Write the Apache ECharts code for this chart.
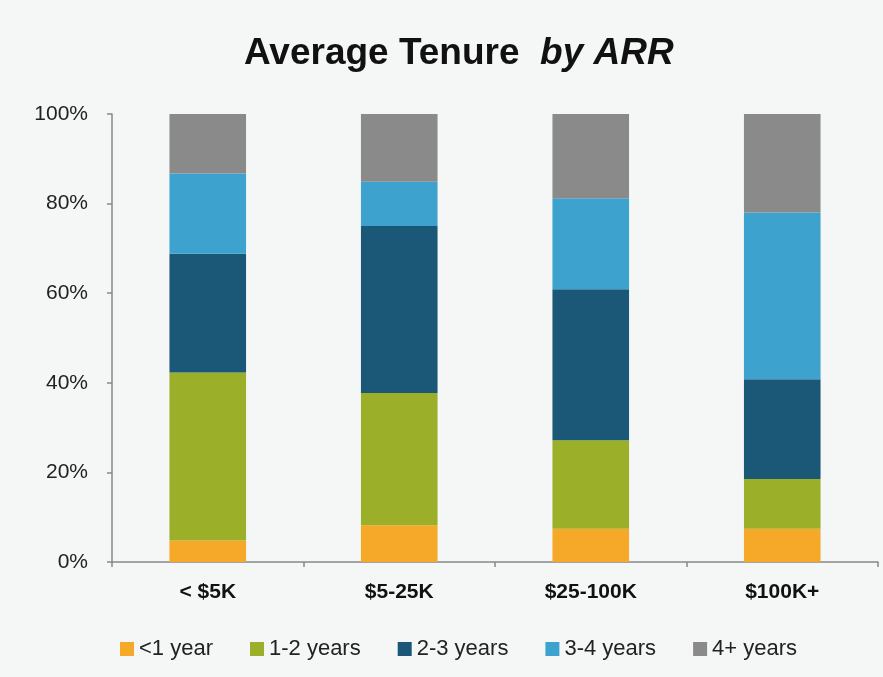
<!DOCTYPE html>
<html>
<head>
<meta charset="utf-8">
<script src="https://cdn.jsdelivr.net/npm/echarts@6/dist/echarts.min.js"></script>
<style>
  html, body { margin: 0; padding: 0; background: #f5f6f6; }
  #chart { width: 883px; height: 677px; }
</style>
</head>
<body>
<div id="chart"></div>
<script>
const categories = ['< $5K', '$5-25K', '$25-100K', '$100K+'];
const seriesNames = ['<1 year', '1-2 years', '2-3 years', '3-4 years', '4+ years'];
const lessThan1 = [4.8, 8.2, 7.4, 7.4];
const oneToTwo = [37.5, 29.5, 19.8, 11.1];
const twoToThree = [26.5, 37.3, 33.7, 22.3];
const threeToFour = [17.9, 9.9, 20.3, 37.2];
const fourPlus = [13.3, 15.1, 18.8, 22.0];
const yTicks = [0, 20, 40, 60, 80, 100];
const colors = ['#F6A828', '#9BAF28', '#1B5878', '#3EA2CE', '#8A8A8A'];

const values = [lessThan1, oneToTwo, twoToThree, threeToFour, fourPlus];
const FONT = 'Liberation Sans, Arial, sans-serif';

const chart = echarts.init(document.getElementById('chart'));
chart.setOption({
  backgroundColor: '#f5f6f6',
  animation: false,
  color: colors,
  title: {
    text: '{b|Average Tenure  }{i|by ARR}',
    left: 239,
    top: 30,
    textStyle: {
      rich: {
        b: { fontFamily: FONT, fontSize: 37, fontWeight: 'bold', color: '#111' },
        i: { fontFamily: FONT, fontSize: 37, fontStyle: 'italic', color: '#111' }
      }
    }
  },
  legend: {
    data: seriesNames,
    top: 633,
    left: 115,
    itemWidth: 14,
    itemHeight: 14,
    itemGap: 37,
    icon: 'rect',
    textStyle: { fontFamily: FONT, fontSize: 22, color: '#222' }
  },
  grid: { left: 112, right: 5, top: 114, bottom: 115 },
  xAxis: {
    type: 'category',
    data: categories,
    axisLine: { lineStyle: { color: '#888', width: 1.5 } },
    axisTick: { show: true, length: 5, lineStyle: { color: '#888', width: 1.5 } },
    axisLabel: { fontFamily: FONT, fontSize: 21, fontWeight: 'bold', color: '#111', margin: 20 }
  },
  yAxis: {
    type: 'value',
    min: yTicks[0],
    max: yTicks[yTicks.length - 1],
    interval: yTicks[1] - yTicks[0],
    splitLine: { show: false },
    axisLine: { show: true, lineStyle: { color: '#888', width: 1.5 } },
    axisTick: { show: true, length: 5, lineStyle: { color: '#888', width: 1.5 } },
    axisLabel: { formatter: '{value}%', fontFamily: FONT, fontSize: 21, color: '#222', margin: 24 }
  },
  series: seriesNames.map((name, i) => ({
    name: name,
    type: 'bar',
    stack: 'total',
    barWidth: '40%',
    data: values[i],
    itemStyle: { color: colors[i] }
  }))
});
</script>
</body>
</html>
